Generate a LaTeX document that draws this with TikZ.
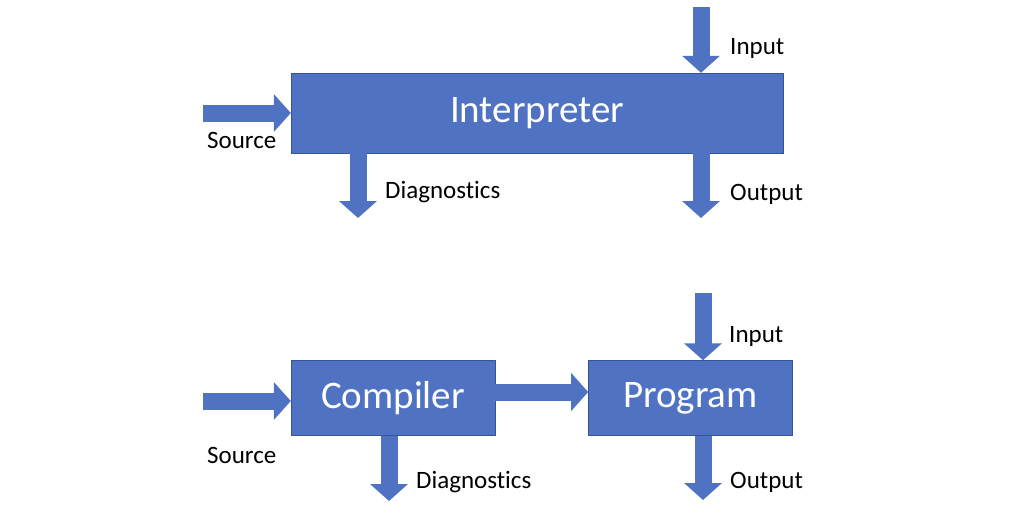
\documentclass[tikz,border=0pt]{standalone}
\usepackage{fontspec}
\setmainfont{Carlito}[Ligatures={NoCommon,NoRare,NoContextual}]
\usetikzlibrary{arrows.meta,positioning}
\definecolor{officeblue}{RGB}{79,114,194}
\definecolor{officeedge}{RGB}{52,86,150}

\begin{document}
\begin{tikzpicture}[x=1pt,y=1pt]
    \tikzstyle{box}=[rectangle, draw=officeedge, fill=officeblue, text=white, inner sep=0pt, font=\fontsize{39}{44}\selectfont]
    \tikzstyle{flow}=[draw=officeblue, line width=17pt, -{Triangle[width=37pt,length=17pt]}]
    \tikzstyle{lbl}=[inner sep=0pt, anchor=base west, font=\fontsize{25}{30}\selectfont]
    \useasboundingbox (0,0) rectangle (1024,-530);

    \node[box, minimum width=492pt, minimum height=80pt] (interp) at (537,-113) {Interpreter};
    \node[box, minimum width=204pt, minimum height=75pt] (comp) at (393,-398) {Compiler};
    \node[box, minimum width=204pt, minimum height=75pt, right=93pt of comp] (prog) {Program};

    \coordinate (src1) at (203,-113);
    \coordinate (diag1) at (358,-218);
    \coordinate (in1) at (701,-7);
    \coordinate (out1) at (701,-218);
    \coordinate (src2) at (203,-401);
    \coordinate (diag2) at (389,-501);
    \coordinate (in2) at (703,-293);
    \coordinate (out2) at (703,-500);

    \draw[flow] (src1) -- (src1 -| interp.west);
    \draw[flow] (diag1 |- interp.south) -- (diag1);
    \draw[flow] (in1) -- (in1 |- interp.north);
    \draw[flow] (out1 |- interp.south) -- (out1);
    \draw[flow] (src2) -- (src2 -| comp.west);
    \draw[flow] (diag2 |- comp.south) -- (diag2);
    \draw[flow] ([yshift=6pt]comp.east) -- ([yshift=6pt]prog.west);
    \draw[flow] (in2) -- (in2 |- prog.north);
    \draw[flow] (out2 |- prog.south) -- (out2);

    \node[lbl] (srcl1) at (207,-148) {Source};
    \node[lbl] (diagl1) at (385,-198) {Diagnostics};
    \node[lbl] (inl1) at (730,-54) {Input};
    \node[lbl] (outl1) at (730,-200) {Output};
    \node[lbl] (srcl2) at (207,-463) {Source};
    \node[lbl] (diagl2) at (416,-488) {Diagnostics};
    \node[lbl] (inl2) at (729,-342) {Input};
    \node[lbl] (outl2) at (730,-488) {Output};
\end{tikzpicture}
\end{document}
